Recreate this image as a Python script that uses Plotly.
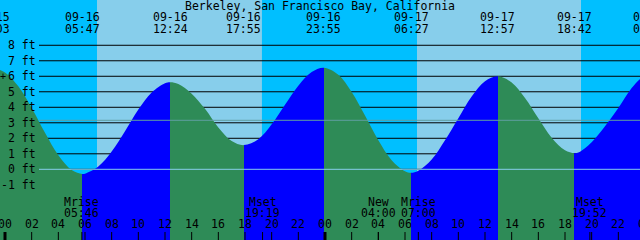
import plotly.graph_objects as go

# ---------------- data (hours since 09-16 00:00) ----------------
station = "Berkeley, San Francisco Bay, California"

extreme_hours = [-0.95, 5.783, 12.4, 17.917, 23.917, 30.45, 36.95, 42.7, 48.43]
extreme_heights = [6.55, -0.3, 5.62, 1.56, 6.55, -0.22, 6.0, 1.04, 6.35]
extreme_dates = ["09-15", "09-16", "09-16", "09-16", "09-16", "09-17", "09-17", "09-17", "09-18"]
extreme_times = ["23:03", "05:47", "12:24", "17:55", "23:55", "06:27", "12:57", "18:42", "00:26"]

curve_hours = [-0.95, 0, 1, 2, 3, 4, 5, 5.783, 6, 7, 8, 9, 10, 11, 12, 12.4,
               13, 14, 15, 16, 17, 17.917, 19, 20, 21, 22, 23, 23.917,
               25, 26, 27, 28, 29, 30, 30.45, 31, 32, 33, 34, 35, 36, 36.95,
               38, 39, 40, 41, 42, 42.7, 43, 44, 45, 46, 47, 48, 48.43]
curve_heights = [6.55, 6.25, 5.35, 3.95, 2.35, 0.9, -0.05, -0.3, -0.28, 0.18, 1.15, 2.45, 3.85, 4.95, 5.55, 5.62,
                 5.5, 4.88, 3.9, 2.7, 1.82, 1.56, 1.94, 2.9, 4.16, 5.39, 6.27, 6.55,
                 6.1, 4.99, 3.47, 1.88, 0.59, -0.12, -0.22, -0.09, 0.63, 1.87, 3.3, 4.7, 5.68, 6.0,
                 5.6, 4.6, 3.29, 2.04, 1.23, 1.04, 1.08, 1.75, 2.78, 3.95, 5.25, 6.12, 6.35]

sunrise_hours = [6.9, 30.9]
sunset_hours = [19.27, 43.2]

moon_hours = [5.767, 19.317, 28.0, 31.0, 43.867]
moon_names = ["Mrise", "Mset", "New", "Mrise", "Mset"]
moon_times = ["05:46", "19:19", "04:00", "07:00", "19:52"]

hour_ticks = [0, 2, 4, 6, 8, 10, 12, 14, 16, 18, 20, 22, 24, 26, 28, 30, 32, 34, 36, 38, 40, 42, 44, 46, 48]
hour_labels = ["00", "02", "04", "06", "08", "10", "12", "14", "16", "18", "20", "22",
               "00", "02", "04", "06", "08", "10", "12", "14", "16", "18", "20", "22", "00"]
midnights = [0, 24, 48]

depth_levels = [-1, 0, 1, 2, 3, 4, 5, 6, 7, 8]
depth_labels = ["-1 ft", "0 ft", "1 ft", "2 ft", "3 ft", "4 ft", "5 ft", "6 ft", "7 ft", "8 ft"]
mean_level = 3.16
datum_level = 0

# ---------------- styling ----------------
W, H = 640, 240
X0, X1 = -0.375, 47.625
Y0, Y1 = -4.56, 10.92
NIGHT = "#00BFFF"
DAY = "#87CEEB"
EBB = "#2E8B57"
FLOOD = "#0000FF"
FONT = dict(family="DejaVu Sans Mono", size=11.5, color="black")


def xf(t):
    return (t - X0) / (X1 - X0)


def pyf(py):
    return 1 - py / H


fig = go.Figure()

# baseline for fill
base_y = Y0 - 1
fig.add_trace(go.Scatter(x=[curve_hours[0], curve_hours[-1]], y=[base_y, base_y],
                         mode="lines", line=dict(width=0), hoverinfo="skip", showlegend=False))

# colour stops: falling = green, rising = blue
g0, g1 = curve_hours[0], curve_hours[-1]
cs = []
for i in range(len(extreme_hours) - 1):
    a = (extreme_hours[i] - g0) / (g1 - g0)
    b = (extreme_hours[i + 1] - g0) / (g1 - g0)
    col = EBB if extreme_heights[i + 1] < extreme_heights[i] else FLOOD
    cs.append([max(0, min(1, a)), col])
    cs.append([max(0, min(1, b)), col])

fig.add_trace(go.Scatter(x=curve_hours, y=curve_heights, mode="lines",
                         line=dict(width=0, shape="spline", smoothing=1.0),
                         fill="tonexty",
                         fillgradient=dict(type="horizontal", start=g0, stop=g1, colorscale=cs),
                         hoverinfo="skip", showlegend=False))

shapes = []
# sky bands (day)
for sr, ss in zip(sunrise_hours, sunset_hours):
    shapes.append(dict(type="rect", xref="x", yref="paper", x0=sr, x1=ss, y0=0, y1=1,
                       fillcolor=DAY, line=dict(width=0), layer="below"))
# depth lines (behind the water)
for d in depth_levels:
    shapes.append(dict(type="line", xref="paper", yref="y", x0=39 / W, x1=1, y0=d, y1=d,
                       line=dict(color="black", width=1), layer="below"))
# mean and datum lines in front
shapes.append(dict(type="line", xref="paper", yref="y", x0=39 / W, x1=1, y0=mean_level, y1=mean_level,
                   line=dict(color="#5F9EA0", width=1), layer="above"))
shapes.append(dict(type="line", xref="paper", yref="y", x0=39 / W, x1=1, y0=datum_level, y1=datum_level,
                   line=dict(color="#87CEEB", width=1), layer="above"))
# hour ticks
for t in hour_ticks:
    shapes.append(dict(type="line", xref="x", yref="paper", x0=t, x1=t, y0=0, y1=8 / H,
                       line=dict(color="black", width=3 if t in midnights else 1), layer="above"))
for t in moon_hours:
    shapes.append(dict(type="line", xref="x", yref="paper", x0=t, x1=t, y0=0, y1=8 / H,
                       line=dict(color="black", width=1), layer="above"))

ann = []


def text(x, y, s, xanchor="center"):
    ann.append(dict(x=x, y=y, xref="paper", yref="paper", text=s, showarrow=False,
                    xanchor=xanchor, yanchor="middle", font=FONT, borderpad=0, borderwidth=0))


text(0.5, pyf(5.5), station)
for t, d, s in zip(extreme_hours, extreme_dates, extreme_times):
    text(xf(t), pyf(17), d)
    text(xf(t), pyf(29), s)
for d, lab in zip(depth_levels, depth_labels):
    ann.append(dict(x=36 / W, y=d, xref="paper", yref="y", text=lab, showarrow=False,
                    xanchor="right", yanchor="middle", font=FONT, borderpad=0, borderwidth=0))
# small marker at the left edge next to the 6 ft label
ann.append(dict(x=3 / W, y=6, xref="paper", yref="y", text="+", showarrow=False,
                xanchor="center", yanchor="middle", font=dict(family="DejaVu Sans Mono", size=10, color="black"),
                borderpad=0, borderwidth=0))
for t, n, s in zip(moon_hours, moon_names, moon_times):
    text(xf(t), pyf(202), n)
    text(xf(t), pyf(213), s)
for t, lab in zip(hour_ticks, hour_labels):
    text(xf(t), pyf(224), lab)

fig.update_layout(
    width=W, height=H, margin=dict(l=0, r=0, t=0, b=0),
    paper_bgcolor=NIGHT, plot_bgcolor=NIGHT,
    xaxis=dict(range=[X0, X1], visible=False, fixedrange=True),
    yaxis=dict(range=[Y0, Y1], visible=False, fixedrange=True),
    shapes=shapes, annotations=ann, showlegend=False,
)

fig.write_html("out.html", config={"displayModeBar": False})
